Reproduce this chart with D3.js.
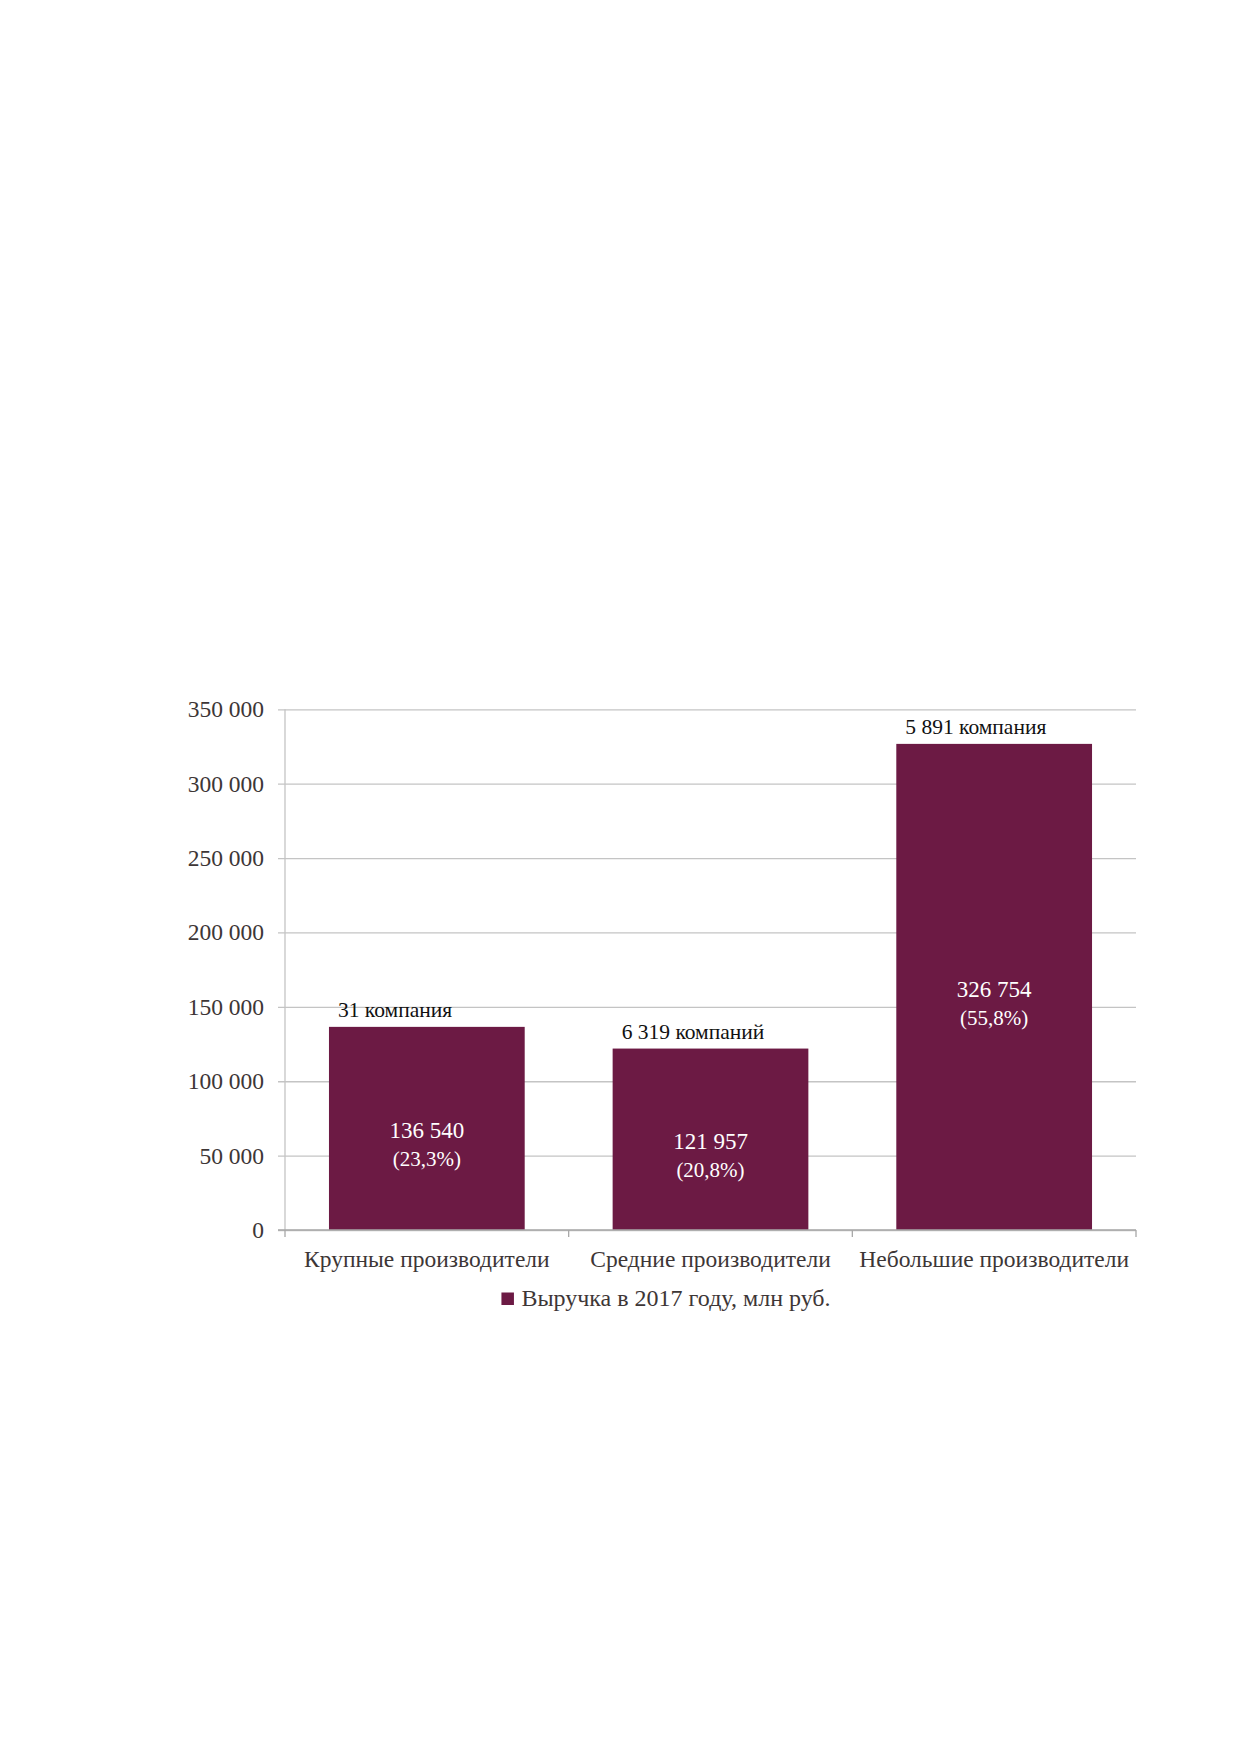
<!DOCTYPE html>
<html>
<head>
<meta charset="utf-8">
<script src="https://cdn.jsdelivr.net/npm/d3@7"></script>
<style>
  body { margin: 0; background: #fff; }
  svg { display: block; }
  text { font-family: "Liberation Serif", "Times New Roman", serif; }
</style>
</head>
<body>
<svg></svg>
<script>
// data
const categories = ['Крупные производители', 'Средние производители', 'Небольшие производители'];
const revenue = [136540, 121957, 326754];
const shares = ['(23,3%)', '(20,8%)', '(55,8%)'];
const companies = ['31 компания', '6 319 компаний', '5 891 компания'];
const yTicks = [0, 50000, 100000, 150000, 200000, 250000, 300000, 350000];
const seriesName = 'Выручка в 2017 году, млн руб.';

const barColor = '#6c1a44';
const textColor = '#3d3636';

const plotLeft = 285, plotRight = 1136, plotTop = 709.3, plotBottom = 1230;
const width = plotRight - plotLeft;
const height = plotBottom - plotTop;

const svg = d3.select('svg')
              .attr('width', 1239)
              .attr('height', 1752);

const chart = svg.append('g')
                 .attr('transform', `translate(${plotLeft},${plotTop})`);

const yScale = d3.scaleLinear()
                 .domain([0, 350000])
                 .range([height, 0]);

const xScale = d3.scaleBand()
                 .domain(categories)
                 .range([0, width])
                 .paddingInner(0.31)
                 .paddingOuter(0.155);

const fmt = v => d3.format(',')(v).replace(/,/g, ' ');

// grid lines + y labels
const yAxis = chart.append('g')
     .attr('transform', 'translate(-7,0)')
     .call(d3.axisLeft(yScale)
             .tickValues(yTicks)
             .tickSize(-(width + 7))
             .tickPadding(14)
             .tickFormat(fmt));
yAxis.select('.domain').remove();
yAxis.selectAll('line').attr('stroke', '#c4c4c4').attr('stroke-width', 1.3);
yAxis.selectAll('text')
     .attr('fill', textColor)
     .style('font-size', '23.5px');

// vertical axis line
chart.append('line')
     .attr('x1', 0).attr('x2', 0)
     .attr('y1', 0).attr('y2', height)
     .attr('stroke', '#c4c4c4')
     .attr('stroke-width', 1.3);

// bars
chart.selectAll('.bar')
     .data(revenue)
     .enter()
     .append('rect')
     .attr('class', 'bar')
     .attr('x', (d, i) => xScale(categories[i]))
     .attr('y', d => yScale(d))
     .attr('width', xScale.bandwidth())
     .attr('height', d => height - yScale(d))
     .attr('fill', barColor);

// x axis
const xAxis = chart.append('g')
     .attr('transform', `translate(0,${height})`)
     .call(d3.axisBottom(xScale).tickSize(0).tickPadding(20));
xAxis.select('.domain').remove();
xAxis.selectAll('text')
     .attr('fill', textColor)
     .style('font-size', '23.5px');

chart.append('line')
     .attr('x1', -7).attr('x2', width)
     .attr('y1', height).attr('y2', height)
     .attr('stroke', '#a8a8a8')
     .attr('stroke-width', 1.3);

const edges = d3.range(categories.length + 1).map(i => i * xScale.step());
chart.selectAll('.xtick')
     .data(edges)
     .enter()
     .append('line')
     .attr('class', 'xtick')
     .attr('x1', d => d).attr('x2', d => d)
     .attr('y1', height).attr('y2', height + 7)
     .attr('stroke', '#a8a8a8')
     .attr('stroke-width', 1.3);

// labels above bars
chart.selectAll('.comp')
     .data(companies)
     .enter()
     .append('text')
     .attr('class', 'comp')
     .attr('x', (d, i) => xScale(categories[i]) + 9)
     .attr('y', (d, i) => yScale(revenue[i]) - 10)
     .attr('fill', '#111')
     .style('font-size', '21.5px')
     .text(d => d);

// values inside bars
const mid = i => (yScale(revenue[i]) + height) / 2;
chart.selectAll('.val')
     .data(revenue)
     .enter()
     .append('text')
     .attr('class', 'val')
     .attr('x', (d, i) => xScale(categories[i]) + xScale.bandwidth() / 2)
     .attr('y', (d, i) => mid(i) + 10)
     .attr('text-anchor', 'middle')
     .attr('fill', '#fff')
     .style('font-size', '23px')
     .text(d => fmt(d));

chart.selectAll('.pct')
     .data(shares)
     .enter()
     .append('text')
     .attr('class', 'pct')
     .attr('x', (d, i) => xScale(categories[i]) + xScale.bandwidth() / 2)
     .attr('y', (d, i) => mid(i) + 38)
     .attr('text-anchor', 'middle')
     .attr('fill', '#fff')
     .style('font-size', '21px')
     .text(d => d);

// legend
const legend = svg.append('g');
legend.append('rect')
      .attr('x', 0).attr('y', -13)
      .attr('width', 12.5).attr('height', 12.5)
      .attr('fill', barColor);
const lt = legend.append('text')
      .attr('x', 20).attr('y', 0)
      .attr('fill', textColor)
      .style('font-size', '24px')
      .text(seriesName);
const lw = 20 + lt.node().getComputedTextLength();
legend.attr('transform', `translate(${666 - lw / 2},1305.5)`);
</script>
</body>
</html>
